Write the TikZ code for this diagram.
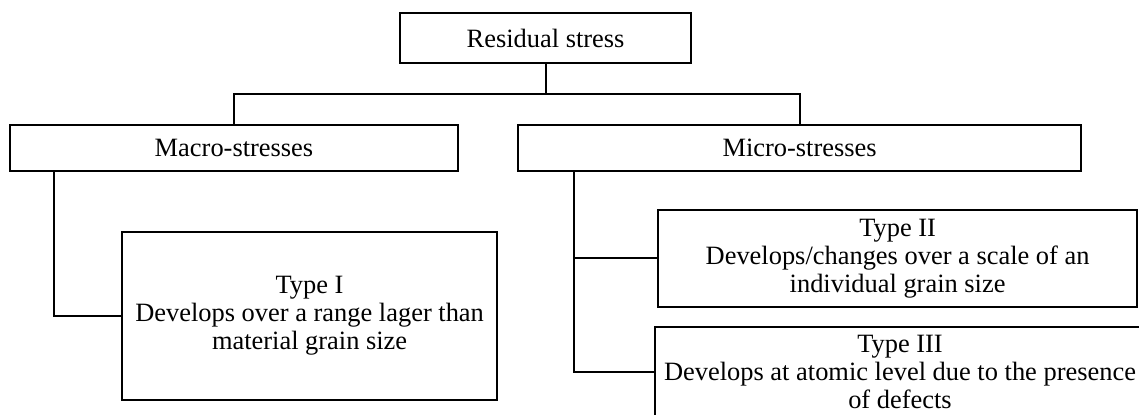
\documentclass[tikz,border=0pt]{standalone}
\usepackage{fontspec}
\setmainfont{Liberation Serif}

\begin{document}
\begin{tikzpicture}[
  stressbox/.style={
    rectangle, draw=black, line width=1.4pt, fill=white,
    align=center, inner sep=0pt,
    font=\fontsize{18.8}{19.9}\selectfont
  },
  link/.style={line width=1.4pt, draw=black},
]

\useasboundingbox (0,0) rectangle (28.475,-10.35);

%% Nodes
\node[stressbox, minimum width=7.275cm, minimum height=1.25cm] (root) at (13.64,-0.95) {Residual stress};
\node[stressbox, minimum width=11.2cm, minimum height=1.16cm] (macro) at (5.85,-3.7) {Macro-stresses};
\node[stressbox, minimum width=14.075cm, minimum height=1.16cm] (micro) at (19.99,-3.7) {Micro-stresses};
\node[stressbox, minimum width=9.375cm, minimum height=4.2cm] (typeone) at (7.74,-7.9)
  {Type I\\Develops over a range lager than\\material grain size};
\node[stressbox, minimum width=11.975cm, minimum height=2.425cm] (typetwo) at (22.44,-6.46)
  {Type II\\Develops/changes over a scale of an\\individual grain size};
\node[stressbox, minimum width=12.25cm, minimum height=2.25cm] (typethree) at (22.5,-9.3)
  {Type III\\Develops at atomic level due to the presence\\of defects};

%% Connectors
\coordinate (hub) at (root.south |- 0,-2.35);
\draw[link] (root.south) -- (hub) -| (macro.north);
\draw[link] (hub) -| (micro.north);

\draw[link] ([xshift=1.125cm]macro.south west) |- (typeone.west);

\coordinate (microstem) at ([xshift=1.41cm]micro.south west);
\draw[link] (microstem) |- (typethree.west);
\draw[link] (microstem |- typetwo.west) -- (typetwo.west);

\end{tikzpicture}
\end{document}
